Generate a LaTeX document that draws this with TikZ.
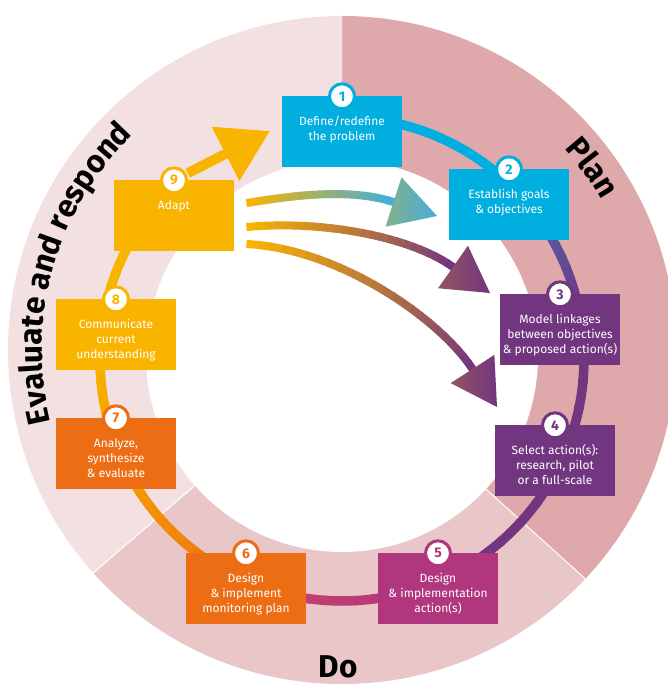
\documentclass[tikz,border=0pt]{standalone}
\usepackage{fontspec}
\setmainfont{Fira Sans}
\usetikzlibrary{arrows.meta,calc,decorations.text}

\definecolor{cblue}{HTML}{00AEE0}
\definecolor{cindigo}{HTML}{4F66B0}
\definecolor{cpurple}{HTML}{72357F}
\definecolor{cmagenta}{HTML}{B0367E}
\definecolor{cred}{HTML}{C8446A}
\definecolor{corange}{HTML}{EC6D13}
\definecolor{cgold}{HTML}{F5A300}
\definecolor{cyellow}{HTML}{F9B400}
\definecolor{cteal}{HTML}{45AED8}
\definecolor{ringplan}{HTML}{DFA8AB}
\definecolor{ringdo}{HTML}{E9C6C7}
\definecolor{ringeval}{HTML}{F3E1E2}

\newcommand{\lblfont}{\fontsize{31.5}{31.5}\selectfont\bfseries}

% gradient curve: start, control, control, end, colour from, colour to
\newcommand{\gradcurve}[6]{%
  \path (#1) .. controls (#2) and (#3) .. (#4)
    \foreach \k in {0,...,24}{coordinate[pos=\k/24] (gp\k)};
  \foreach \k [evaluate=\k as \kn using int(\k+1), evaluate=\k as \pc using int(100-\k*100/23)] in {0,...,23}
    \draw[shaft, #5!\pc!#6] (gp\k) -- (gp\kn);
}
% arrow head: base, tip, colour left, colour right
\newcommand{\gradhead}[4]{%
  \shade[left color=#3, right color=#4] ($(#1)!26pt!90:(#2)$) -- (#2) -- ($(#1)!26pt!-90:(#2)$) -- cycle;
}

\begin{document}
\begin{tikzpicture}[x=1pt, y=1pt,
  stepbox/.style={rectangle, fill=#1, minimum width=120pt, minimum height=71pt, inner sep=0pt},
  steptext/.style={anchor=north, align=center, text=white, inner sep=0pt, font=\fontsize{12}{15}\selectfont},
  badge/.style={circle, fill=white, draw=#1, line width=3pt, minimum size=25pt, inner sep=0pt, text=#1, font=\fontsize{14}{14}\selectfont\bfseries},
  track/.style={line width=9.5pt},
  shaft/.style={line width=8pt, shorten <=-0.5pt, shorten >=-0.5pt},
  lbl/.style={font=\lblfont, inner sep=0pt}]

\useasboundingbox (0,0) rectangle (668,686);
\clip (0,0) rectangle (668,686);
\fill[white] (0,0) rectangle (668,686);

\coordinate (rc) at (342,336); % outer ring
\coordinate (tc) at (342,327); % track and sectors
\coordinate (ic) at (342,330); % hole

% ring with three sectors
\begin{scope}
  \clip (rc) circle (334);
  \fill[ringplan] (tc) -- ++(90:420) arc[start angle=90, end angle=-42.1, radius=420] -- cycle;
  \fill[ringdo] (tc) -- ++(-42.1:420) arc[start angle=-42.1, end angle=-139.3, radius=420] -- cycle;
  \fill[ringeval] (tc) -- ++(-139.3:420) arc[start angle=-139.3, end angle=-270, radius=420] -- cycle;
  \draw[white, line width=1pt] (tc) -- ++(-42.1:420) (tc) -- ++(-139.3:420);
\end{scope}
\fill[white] (ic) circle (196);

\path[decorate, decoration={text along path, text align=center, text={|\lblfont|Evaluate and respond}}]
  ($(rc)+(225:300)$) arc[start angle=225, end angle=103, radius=300];
\path[decorate, decoration={text along path, text align=center, text={|\lblfont|Plan}}]
  ($(rc)+(56:300)$) arc[start angle=56, end angle=16, radius=300];
\node[lbl, anchor=base] (do) at (338,9) {Do};

% the cycle track
\foreach \a/\b/\ca/\cb in {90/42.9/cblue/cblue, 42.9/7.8/cindigo/cpurple, 7.8/-67.3/cpurple/cpurple,
    -67.3/-112.7/cmagenta/cred, -112.7/-157.4/corange/cgold, -157.4/-186.3/cgold/cyellow, -186.3/-220.6/cyellow/cyellow}
  \foreach \k in {0,...,11}{
    \pgfmathsetmacro{\sa}{\a+(\b-\a)*\k/12}
    \pgfmathsetmacro{\da}{(\b-\a)/10.5}
    \pgfmathtruncatemacro{\pc}{100-\k*100/11}
    \draw[track, \ca!\pc!\cb] ($(tc)+(\sa:242)$) arc[start angle=\sa, delta angle=\da, radius=242];
  }

% steps
\foreach \n/\x/\y/\c/\t in {
  1/342/554/cblue/{Define/redefine\\the problem},
  2/509/481/cblue/{Establish goals\\\& objectives},
  3/560/356/cpurple/{Model linkages\\between objectives\\\& proposed action(s)},
  4/555/225/cpurple/{Select action(s):\\research, pilot\\or a full-scale},
  5/438/97/cmagenta/{Design\\\& implementation\\action(s)},
  6/246/97/corange/{Design\\\& implement\\monitoring plan},
  7/116/232/corange/{Analyze,\\synthesize\\\& evaluate},
  8/116/351/cyellow/{Communicate\\current\\understanding},
  9/174/470/cyellow/{Adapt}}
{
  \node[stepbox=\c] (s\n) at (\x,\y) {};
  \node[steptext] (l\n) at ([yshift=-19pt]s\n.north) {\strut\t};
  \node[badge=\c] (b\n) at (s\n.north) {\n};
}

% adapt -> define
\coordinate (tip1) at (270,555);
\draw[line width=10pt, cyellow, shorten <=1.5pt, -{Triangle[length=50pt, width=58pt]}] (b9) -- (tip1);

% feedback arrows
\coordinate (a0) at (247,483); \coordinate (a3) at (393.5,484); \coordinate (a4) at (437,470);
\gradcurve{a0}{290,490}{348.5,498.5}{a3}{cyellow}{cteal}
\gradhead{a3}{a4}{cteal!65!cyellow}{cteal}

\coordinate (b0) at (247,459); \coordinate (b3) at (453,419); \coordinate (b4) at (490,393);
\gradcurve{b0}{320,466}{410,450}{b3}{cyellow}{cpurple}
\gradhead{b3}{b4}{cpurple!75!cyellow}{cpurple}

\coordinate (c0) at (247,442); \coordinate (c3) at (472.5,317); \coordinate (c4) at (497,279);
\gradcurve{c0}{340,437}{440,367}{c3}{cyellow}{cpurple}
\gradhead{c3}{c4}{cpurple!75!cyellow}{cpurple}

\end{tikzpicture}
\end{document}
